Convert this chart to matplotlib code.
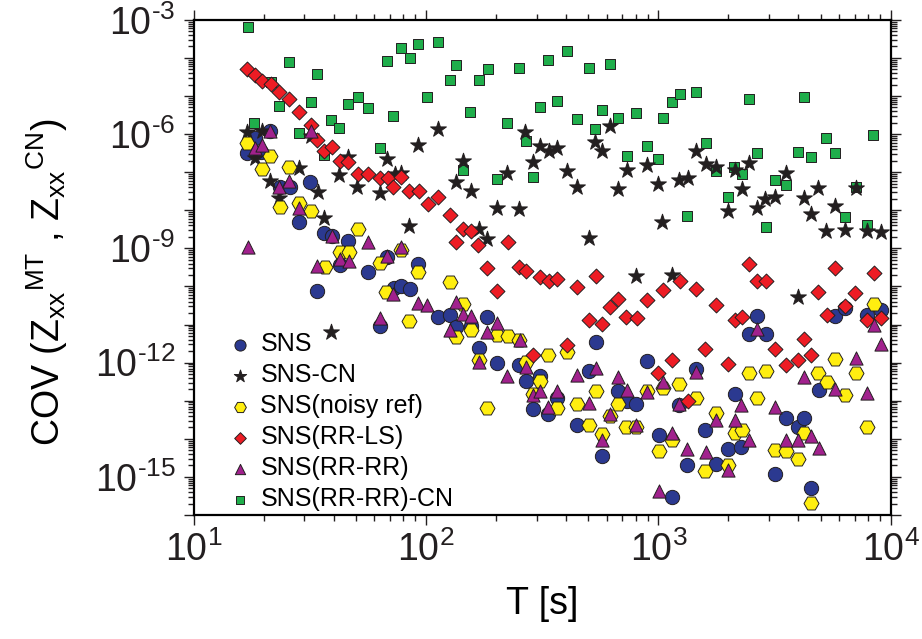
import numpy as np
import matplotlib
matplotlib.use("Agg")
import matplotlib.pyplot as plt
from matplotlib.ticker import LogLocator, FuncFormatter, NullFormatter

plt.rcParams['font.family'] = ['Liberation Sans', 'DejaVu Sans']
plt.rcParams['mathtext.fontset'] = 'custom'
plt.rcParams['mathtext.rm'] = 'Liberation Sans'
plt.rcParams['mathtext.it'] = 'Liberation Sans'
plt.rcParams['mathtext.default'] = 'regular'

# (T [s], COV) pairs
sns = [(16.91, 3.2e-7), (18.31, 7.9e-7), (19.43, 3.3e-7), (21.39, 1.17e-6), (23.45, 4.2e-8),
       (25.90, 4.2e-8), (28.40, 4.9e-9), (31.80, 5.4e-8), (34.07, 7.4e-11), (36.28, 2.6e-9),
       (39.55, 2.1e-9), (42.51, 3.7e-10), (46.35, 1.6e-9), (56.49, 2.4e-10), (63.65, 9.3e-12),
       (68.23, 5.8e-10), (72.83, 9.1e-11), (78.38, 1.0e-10), (85.7, 8.5e-11), (92.11, 3.9e-10),
       (112.6, 1.57e-11), (126.5, 1.8e-11), (135.2, 8.4e-12), (156.8, 8.9e-12), (168.6, 2.4e-12),
       (183.8, 1.6e-11), (202.2, 9.8e-13), (251.4, 8.8e-13), (268.7, 3.35e-13), (288.8, 6.0e-14),
       (310.9, 4.35e-13), (336.5, 4.5e-14), (366.4, 1.18e-13), (446.7, 2.25e-14), (501.5, 6.2e-13),
       (537.7, 3.4e-12), (574.7, 3.45e-15), (668.8, 1.83e-13), (733.4, 9.6e-14), (804.8, 8.2e-14),
       (894.1, 1.12e-12), (1007, 1.28e-14), (1150, 3.0e-16), (1228, 7.9e-14), (1335, 2.1e-15),
       (1459, 6.9e-13), (1595, 1.66e-14), (1779, 2.2e-15), (1995, 5.3e-15), (2132, 1.5e-13),
       (2279, 6.1e-15), (2457, 5.7e-12), (2660, 1.7e-11), (2908, 5.7e-12), (3193, 1.2e-15),
       (3559, 3.5e-14), (3994, 2.1e-14), (4256, 3.5e-14), (4561, 5.1e-16), (4904, 1.86e-13),
       (5763, 1.7e-11), (6345, 2.7e-11), (7946, 1.73e-11), (9129, 2.44e-11)]

sns_cn = [(17.03, 1.13e-6), (18.31, 2.3e-7), (19.68, 1.22e-6), (21.24, 6.0e-8), (23.33, 2.1e-8),
          (28.51, 1.25e-7), (31.90, 8.7e-7), (34.28, 3.1e-8), (36.39, 6.2e-9), (39.15, 6.4e-12),
          (42.39, 8.4e-8), (46.35, 2.5e-7), (50.67, 4.2e-8), (63.65, 2.9e-8), (67.77, 2.2e-7),
          (73.34, 8.9e-8), (78.38, 9.8e-8), (84.85, 3.8e-9), (92.38, 5.2e-7), (112.6, 1.32e-6),
          (135.2, 5.4e-8), (144.3, 2.0e-7), (156.8, 3.3e-8), (168.6, 3.2e-9), (183.8, 1.75e-9),
          (202.2, 1.16e-8), (224.0, 9.8e-8), (252.5, 1.07e-8), (267.9, 1.13e-6), (288.8, 1.9e-7),
          (310.9, 5.0e-7), (337.5, 3.5e-7), (365.3, 4.3e-7), (403.4, 1.07e-7), (448.5, 4.0e-8),
          (503.0, 1.86e-9), (536.1, 6.2e-7), (574.7, 3.65e-7), (619.7, 1.65e-6), (670.8, 3.6e-8),
          (731.1, 1.11e-7), (804.8, 1.83e-10), (891.4, 1.54e-7), (1001, 5.0e-8), (1042, 4.9e-9),
          (1146, 1.95e-10), (1228, 6.05e-8), (1339, 7.0e-8), (1453, 3.7e-7), (1600, 1.66e-7),
          (1779, 1.36e-7), (2003, 9.3e-9), (2132, 1.11e-7), (2293, 3.7e-8), (2467, 1.73e-7),
          (2660, 1.14e-8), (2891, 1.97e-8), (3193, 2.17e-8), (3559, 9.8e-8), (3994, 5.3e-11),
          (4256, 2.09e-8), (4544, 8.1e-9), (4870, 3.8e-8), (5292, 2.8e-9), (5763, 1.26e-8),
          (6345, 2.95e-9), (7078, 3.8e-8), (7915, 2.8e-9), (9093, 2.7e-9)]

noisy_ref = [(17.03, 6.0e-7), (19.68, 1.21e-7), (21.39, 2.6e-7), (23.45, 1.21e-8), (25.64, 1.41e-7),
             (28.40, 1.55e-8), (31.90, 9.7e-9), (36.75, 3.2e-10), (42.51, 7.8e-10), (46.48, 8.0e-10),
             (50.82, 3.2e-9), (63.65, 4.1e-10), (67.25, 7.0e-11), (78.07, 9.2e-10), (84.85, 1.26e-11),
             (92.11, 2.4e-10), (126.5, 1.3e-10), (135.2, 4.7e-12), (144.3, 3.45e-11), (156.8, 7.0e-12),
             (168.6, 1.14e-12), (183.8, 6.4e-14), (202.2, 5.2e-12), (225.4, 5.1e-12), (251.4, 4.0e-12),
             (268.7, 1.04e-12), (289.9, 1.5e-13), (310.9, 3.4e-13), (336.5, 1.56e-12), (366.4, 6.4e-14),
             (402.6, 1.9e-12), (446.7, 8.3e-14), (503.0, 2.25e-14), (537.7, 1.75e-13), (574.7, 1.34e-14),
             (617.8, 4.1e-14), (668.8, 8.3e-14), (729.0, 2.1e-14), (804.8, 2.1e-14), (894.1, 1.75e-13),
             (1007, 4.7e-15), (1048, 2.15e-13), (1150, 9.1e-15), (1233, 2.8e-13), (1459, 1.18e-13),
             (1595, 1.39e-15), (1779, 4.9e-14), (2003, 2.1e-15), (2132, 1.42e-14), (2293, 1.66e-14),
             (2467, 5.3e-13), (2660, 1.18e-13), (2900, 5.9e-13), (3193, 5.2e-15), (3559, 4.9e-15),
             (3994, 2.95e-15), (4256, 1.42e-14), (4561, 2.1e-16), (4889, 5.3e-13), (5325, 3.2e-13),
             (5763, 1.24e-12), (6345, 1.44e-13), (7078, 5.2e-13), (7946, 2.04e-14), (8458, 3.5e-11)]

rr_ls = [(16.96, 5.1e-5), (18.31, 3.5e-5), (19.68, 2.5e-5), (21.45, 2.05e-5), (23.38, 1.3e-5),
         (25.64, 8.3e-6), (28.40, 3.8e-6), (31.90, 1.75e-6), (34.07, 7.2e-7), (36.39, 3.65e-7),
         (39.28, 4.6e-7), (42.51, 2.0e-7), (46.35, 1.8e-7), (50.82, 8.7e-8), (56.49, 8.9e-8),
         (63.65, 7.1e-8), (68.43, 7.1e-8), (72.41, 4.0e-8), (77.84, 7.4e-8), (84.69, 3.15e-8),
         (93.03, 3.25e-8), (101.7, 1.46e-8), (112.6, 2.2e-8), (126.5, 7.5e-9), (135.2, 1.5e-9),
         (144.3, 3.2e-9), (156.8, 2.8e-9), (168.1, 1.2e-9), (183.8, 3.1e-10), (202.2, 7.4e-11),
         (225.4, 1.5e-9), (252.5, 3.2e-10), (270.5, 2.6e-10), (288.8, 1.6e-12), (310.9, 1.8e-10),
         (338.5, 1.4e-10), (367.9, 1.6e-10), (402.6, 2.9e-12), (448.5, 9.4e-11), (503.0, 1.3e-11),
         (537.7, 1.9e-10), (574.7, 1.05e-11), (619.7, 2.9e-11), (670.8, 4.7e-11), (729.0, 1.6e-11),
         (809.6, 1.5e-11), (897.6, 4.3e-11), (1001, 5.3e-13), (1048, 8.2e-11), (1146, 1.2e-12),
         (1236, 1.4e-10), (1339, 9.6e-14), (1453, 8.7e-11), (1595, 2.3e-12), (1779, 3.2e-11),
         (1995, 9.4e-13), (2132, 1.3e-11), (2293, 1.6e-11), (2457, 3.8e-10), (2660, 1.4e-10),
         (2908, 1.4e-10), (3193, 2.25e-12), (3559, 8.8e-13), (3994, 1.2e-12), (4256, 4.2e-12),
         (4552, 1.6e-12), (4889, 7.3e-11), (5308, 1.8e-11), (5763, 3.1e-10), (6345, 3.1e-11),
         (7057, 6.7e-11), (7946, 1.3e-11), (8458, 2.25e-10), (9093, 1.5e-11)]

rr_rr = [(17.08, 1.06e-9), (18.31, 4.3e-7), (19.68, 5.2e-7), (21.39, 1.24e-6), (23.33, 4.2e-8),
         (25.64, 5.7e-8), (28.40, 1.18e-8), (31.90, 1.17e-6), (34.07, 3.35e-10), (39.39, 2.05e-9),
         (42.51, 5.2e-10), (46.48, 4.7e-10), (56.49, 1.5e-9), (63.65, 1.48e-11), (67.97, 6.5e-10),
         (72.41, 6.5e-11), (78.38, 1.06e-9), (92.38, 3.7e-11), (101.0, 3.3e-11), (126.5, 7.0e-12),
         (135.2, 4.0e-11), (144.3, 1.9e-11), (155.7, 1.63e-11), (168.6, 1.07e-12), (183.8, 6.2e-12),
         (202.2, 1.09e-11), (224.0, 4.5e-13), (253.2, 4.0e-12), (268.7, 7.5e-13), (287.9, 1.44e-13),
         (310.9, 1.83e-13), (336.5, 6.8e-14), (366.4, 1.83e-13), (448.5, 4.8e-13), (503.0, 8.7e-14),
         (537.7, 7.2e-13), (574.7, 9.5e-15), (617.8, 4.5e-14), (670.8, 4.2e-13), (733.4, 1.86e-13),
         (804.8, 2.3e-14), (894.1, 1.65e-13), (1007, 4.2e-16), (1048, 3.2e-13), (1150, 1.42e-14),
         (1228, 8.2e-14), (1335, 5.5e-15), (1459, 5.7e-13), (1600, 4.5e-15), (1779, 3.2e-14),
         (2003, 1.55e-15), (2132, 3.2e-14), (2279, 7.9e-14), (2467, 9.5e-15), (2660, 7.8e-12),
         (3193, 6.7e-14), (3559, 9.5e-15), (3994, 9.5e-15), (4256, 4.1e-13), (4561, 1.16e-14),
         (4904, 5.7e-15), (5763, 2.0e-13), (7078, 1.3e-12), (7946, 1.56e-13), (8458, 9.5e-12),
         (9093, 3.1e-12)]

rr_rr_cn = [(17.13, 6.3e-4), (18.18, 1.9e-6), (21.45, 2.4e-5), (23.33, 5.6e-6), (25.64, 7.6e-5),
            (28.40, 1.06e-6), (31.90, 6.9e-6), (34.07, 3.8e-5), (36.39, 2.9e-7), (39.15, 2.3e-6),
            (42.39, 1.44e-6), (46.35, 6.1e-6), (50.97, 9.5e-6), (56.49, 4.7e-6), (63.65, 4.3e-7),
            (67.97, 8.5e-5), (72.41, 2.9e-6), (78.38, 1.77e-4), (85.1, 1.0e-4), (92.38, 2.3e-4),
            (100.7, 9.5e-6), (113.1, 2.6e-4), (126.9, 2.7e-5), (135.2, 6.5e-5), (144.9, 1.16e-7),
            (155.3, 3.85e-6), (169.1, 2.6e-5), (184.3, 5.1e-5), (203.0, 6.6e-8), (224.0, 1.94e-6),
            (252.5, 5.3e-5), (269.5, 6.5e-7), (288.8, 7.6e-8), (310.9, 5.1e-6), (336.5, 8.9e-5),
            (365.3, 7.2e-6), (403.4, 1.56e-4), (448.5, 2.5e-6), (505.0, 5.4e-5), (536.1, 1.32e-6),
            (574.7, 4.4e-6), (617.8, 7.1e-5), (670.8, 2.7e-6), (731.1, 2.6e-7), (804.8, 3.6e-6),
            (891.4, 4.9e-7), (1001, 2.25e-7), (1048, 2.6e-6), (1146, 6.9e-6), (1236, 1.12e-5),
            (1335, 6.9e-9), (1453, 1.31e-5), (1600, 6.0e-7), (1779, 1.09e-7), (2003, 2.3e-8),
            (2126, 1.36e-7), (2293, 9.2e-8), (2457, 8.3e-6), (2660, 3.1e-7), (2900, 3.6e-9),
            (3193, 6.05e-8), (3545, 4.5e-8), (3982, 3.3e-7), (4256, 9.7e-6), (4544, 2.5e-7),
            (5292, 7.7e-7), (5763, 3.1e-7), (6364, 6.6e-9), (7078, 4.2e-8), (7946, 4.0e-9),
            (8433, 9.6e-7)]

# label, data, marker, size (pt), face colour, drawing order
series = [
    ('SNS(RR-RR)-CN', rr_rr_cn, 's', 7.6, '#1FAE4B', 1),
    ('SNS', sns, 'o', 10.3, '#2B3990', 2),
    ('SNS-CN', sns_cn, '*', 12.0, '#231F20', 3),
    ('SNS(noisy ref)', noisy_ref, 'H', 10.8, '#FFEE10', 4),
    ('SNS(RR-LS)', rr_ls, 'D', 7.6, '#ED1C24', 5),
    ('SNS(RR-RR)', rr_rr, '^', 9.5, '#A1218D', 6),
]
legend_order = ['SNS', 'SNS-CN', 'SNS(noisy ref)', 'SNS(RR-LS)', 'SNS(RR-RR)', 'SNS(RR-RR)-CN']

fig = plt.figure(figsize=(9.22, 6.39), dpi=100)
ax = fig.add_axes([0.210, 0.194, 0.756, 0.775])

handles = {}
for label, data, marker, size, color, z in series:
    t, cov = np.array(data).T
    h = ax.scatter(t, cov, s=size ** 2, marker=marker, facecolor=color,
                   edgecolor='#231F20', linewidths=0.7, zorder=z, label=label)
    handles[label] = h

ax.set_xscale('log')
ax.set_yscale('log')
ax.set_xlim(10, 1e4)
ax.set_ylim(1e-16, 1e-3)

ax.xaxis.set_major_locator(LogLocator(base=10, numticks=10))
ax.xaxis.set_minor_locator(LogLocator(base=10, subs=np.arange(2, 10), numticks=10))
ax.yaxis.set_major_locator(LogLocator(base=10, numticks=20))
ax.yaxis.set_minor_locator(LogLocator(base=10, subs=np.arange(2, 10), numticks=20))


def xfmt(v, pos):
    return r'$10^{\text{%d}}$' % int(round(np.log10(v)))


def yfmt(v, pos):
    e = int(round(np.log10(v)))
    if e % 3 == 0:
        return r'$10^{\text{%d}}$' % e
    return ''


ax.xaxis.set_major_formatter(FuncFormatter(xfmt))
ax.yaxis.set_major_formatter(FuncFormatter(yfmt))
ax.xaxis.set_minor_formatter(NullFormatter())
ax.yaxis.set_minor_formatter(NullFormatter())

for sp in ax.spines.values():
    sp.set_linewidth(1.6)
ax.tick_params(which='both', direction='out', top=True, right=True, width=1.0,
               labelsize=27, colors='#231F20')
ax.tick_params(which='major', length=7)
ax.tick_params(which='minor', length=4)
ax.tick_params(axis='x', which='major', pad=5)
ax.tick_params(axis='y', which='major', pad=6)

ax.set_xlabel('T [s]', fontsize=27, labelpad=12)
ax.set_ylabel(r'COV (Z$_{xx}{}^{MT}$ , Z$_{xx}{}^{CN}$)', fontsize=27)
ax.yaxis.set_label_coords(-0.178, 0.47)

leg = ax.legend([handles[k] for k in legend_order], legend_order, loc='upper left',
                bbox_to_anchor=(0.024, 0.404), frameon=False, fontsize=18,
                markerscale=0.78, handletextpad=0.3, labelspacing=0.28,
                borderpad=0.2, handlelength=1.0, scatterpoints=1)

fig.savefig('out.png', dpi=100)
